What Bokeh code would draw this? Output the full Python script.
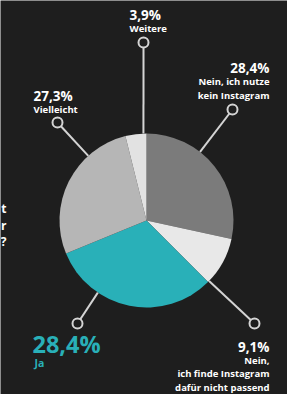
import math
from bokeh.plotting import figure
from bokeh.models import Range1d, ColumnDataSource
from bokeh.core.properties import value
from bokeh.embed import file_html
from bokeh.resources import INLINE

# ---- data ----
categories = ["Nein, ich nutze kein Instagram", "Nein, ich finde Instagram dafür nicht passend",
              "Ja", "Vielleicht", "Weitere"]
shares = [28.4, 9.1, 28.4, 27.3, 3.9]
pct_labels = ["28,4%", "9,1%", "28,4%", "27,3%", "3,9%"]
slice_colors = ["#7b7b7b", "#e8e8e8", "#29b0b8", "#b6b6b6", "#e2e2e2"]

BG = "#1e1e1e"
W, H = 287, 394
p = figure(width=W, height=H, output_backend="svg", toolbar_location=None,
           x_range=Range1d(0, W), y_range=Range1d(394 - H, 394),
           min_border=0, background_fill_color=BG, border_fill_color=BG)
p.axis.visible = False
p.grid.visible = False
p.outline_line_color = None

def Y(y):  # reference pixel row -> data y
    return 394 - y

cx, cy, R = 146, Y(220), 87

deg = lambda v: v / 100.0 * 2 * math.pi
top = math.pi / 2
a_nein_end = top - deg(shares[0])
a_np_end = a_nein_end - deg(shares[1])
a_w_end = top + deg(shares[4])
a_v_end = a_w_end + deg(shares[3])
starts = [a_nein_end, a_np_end, a_v_end, a_w_end, top]
ends = [top, a_nein_end, a_np_end + 2 * math.pi, a_v_end, a_w_end]

src = ColumnDataSource(dict(x=[cx] * 5, y=[cy] * 5, s=starts, e=ends, c=slice_colors, cat=categories))
p.wedge(x="x", y="y", radius=R, start_angle="s", end_angle="e", fill_color="c",
        line_color=None, source=src)

# leader lines
lead_ang = [52, -44, -124, 132, 92]
dots = [(232, 109), (254, 323), (77, 323), (57, 122), (143, 42)]
x0 = [cx + R * math.cos(math.radians(a)) for a in lead_ang]
y0 = [cy + R * math.sin(math.radians(a)) for a in lead_ang]
x1 = [d[0] for d in dots]
y1 = [Y(d[1]) for d in dots]
LC = "#d4d4d4"
p.segment(x0=x0, y0=y0, x1=x1, y1=y1, line_color=LC, line_width=2)
p.scatter(x=x1, y=y1, size=10, marker="circle", fill_color=BG, line_color=LC, line_width=2)

FONT = value("Open Sans")

def txt(x, y, s, size, align, color="#ffffff", style="bold"):
    p.text(x=[x], y=[Y(y)], text=[s], text_font=FONT, text_font_size=f"{size}px",
           text_font_style=style, text_color=color, text_align=align, text_baseline="middle")

TEAL = slice_colors[2]
PS, LS = 13.5, 9.5
txt(129, 14, pct_labels[4], PS, "left")
txt(129, 28, "Weitere", LS, "left")
txt(269, 67, pct_labels[0], PS, "right")
txt(269, 81, "Nein, ich nutze", LS, "right")
txt(269, 95, "kein Instagram", LS, "right")
txt(33, 95, pct_labels[3], PS, "left")
txt(33, 109, categories[3], LS, "left")
txt(32, 343, pct_labels[2], 23.5, "left", color=TEAL)
txt(34, 362, categories[2], 10.5, "left", color=TEAL)
txt(269, 346, pct_labels[1], PS, "right")
txt(269, 360, "Nein,", LS, "right")
txt(269, 373, "ich finde Instagram", LS, "right")
txt(269, 387, "dafür nicht passend", LS, "right")
# cut-off words of a neighbouring question at the left edge
txt(6, 208, "t", 12, "right")
txt(6, 225, "r", 12, "right")
txt(6, 241, "?", 12, "right")

open("out.html", "w").write(file_html(p, INLINE))
